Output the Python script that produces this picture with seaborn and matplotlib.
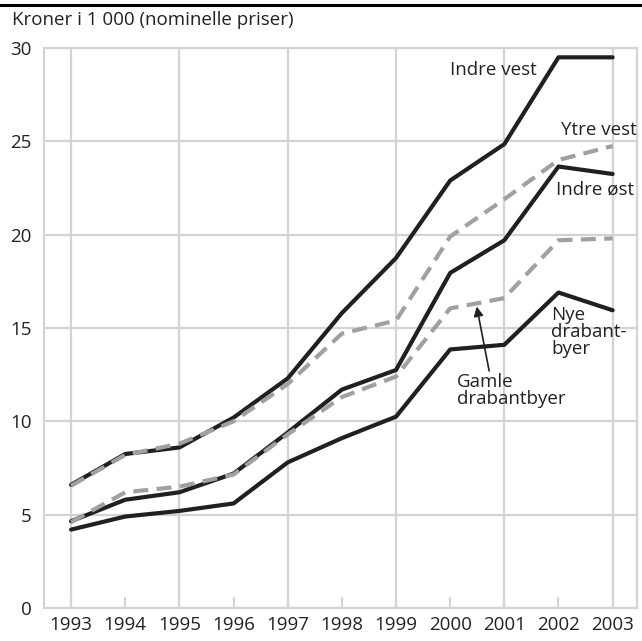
import matplotlib
matplotlib.use("Agg")
import matplotlib.pyplot as plt
from matplotlib.lines import Line2D
import seaborn as sns
import pandas as pd

years = [1993, 1994, 1995, 1996, 1997, 1998, 1999, 2000, 2001, 2002, 2003]
indre_vest = [6.6, 8.25, 8.6, 10.2, 12.3, 15.8, 18.75, 22.9, 24.85, 29.5, 29.5]
indre_ost = [4.65, 5.8, 6.2, 7.2, 9.4, 11.7, 12.75, 17.95, 19.7, 23.65, 23.25]
nye_drabantbyer = [4.2, 4.9, 5.2, 5.6, 7.8, 9.1, 10.25, 13.85, 14.1, 16.9, 15.95]
ytre_vest = [6.55, 8.2, 8.8, 10.0, 12.0, 14.7, 15.4, 19.9, 21.9, 24.0, 24.75]
gamle_drabantbyer = [4.6, 6.2, 6.5, 7.15, 9.3, 11.3, 12.4, 16.05, 16.6, 19.7, 19.8]

series = {
    "Indre vest": indre_vest,
    "Indre øst": indre_ost,
    "Nye drabantbyer": nye_drabantbyer,
    "Ytre vest": ytre_vest,
    "Gamle drabantbyer": gamle_drabantbyer,
}
rows = []
for name, vals in series.items():
    for y, v in zip(years, vals):
        rows.append({"year": y, "value": v, "area": name})
df = pd.DataFrame(rows)

sns.set_style("white")
plt.rcParams["font.family"] = ["Open Sans", "DejaVu Sans"]

fig = plt.figure(figsize=(6.42, 6.41), dpi=100)
ax = fig.add_axes([44/642, 1-608/641, (637-44)/642, (608-48)/641])

black = "#231f20"
gray = "#a0a0a0"
palette = {"Indre vest": black, "Indre øst": black, "Nye drabantbyer": black,
           "Ytre vest": gray, "Gamle drabantbyer": gray}
dashes = {"Indre vest": "", "Indre øst": "", "Nye drabantbyer": "",
          "Ytre vest": (3.6, 2.0), "Gamle drabantbyer": (3.6, 2.0)}
order = list(series.keys())
sns.lineplot(data=df, x="year", y="value", hue="area", style="area",
             hue_order=order, style_order=order, palette=palette, dashes=dashes,
             linewidth=3.0, legend=False, ax=ax, sort=False)

gridc = "#d3d3d3"
ax.set_xlim(1992.5, 2003.45)
ax.set_ylim(0, 30)
ax.set_yticks([0, 5, 10, 15, 20, 25, 30])
ax.xaxis.remove_overlapping_locs = False
ax.set_xticks(years)
ax.set_xticklabels([str(y) for y in years])
ax.set_xticks(years[::2], minor=True)
ax.grid(axis="x", which="major", visible=False)
ax.grid(axis="x", which="minor", color=gridc, linewidth=1.6)
ax.grid(axis="y", which="major", color=gridc, linewidth=1.6)
ax.set_axisbelow(True)
ax.tick_params(axis="x", which="major", bottom=True, direction="in", length=8, width=1.5,
               color=gridc, pad=6, labelsize=13.5, labelcolor="#222222")
ax.tick_params(axis="x", which="minor", length=0)
ax.tick_params(axis="y", length=0, pad=9, labelsize=13.5, labelcolor="#222222")
for s in ax.spines.values():
    s.set_color(gridc)
    s.set_linewidth(1.6)
ax.set_xlabel("")
ax.set_ylabel("")

txt = dict(fontsize=13.5, color="#222222")
ax.text(2001.6, 28.8, "Indre vest", ha="right", va="center", **txt)
ax.text(2003.45, 25.6, "Ytre vest", ha="right", va="center", **txt)
ax.text(2003.4, 22.4, "Indre øst", ha="right", va="center", **txt)
ax.text(2001.86, 16.2, "Nye\ndrabant-\nbyer", ha="left", va="top", linespacing=0.95, **txt)
ax.text(2000.13, 12.6, "Gamle\ndrabantbyer", ha="left", va="top", linespacing=0.95, **txt)
ax.annotate("", xy=(2000.49, 16.15), xytext=(2000.72, 12.7),
            arrowprops=dict(arrowstyle="-|>", color=black, lw=1.2,
                            mutation_scale=14, shrinkA=0, shrinkB=0))

fig.text(12/642, 1-20/641, "Kroner i 1 000 (nominelle priser)", ha="left", va="center", **txt)
fig.add_artist(Line2D([0, 1], [1-5/641, 1-5/641], color="black", linewidth=2.2,
                      transform=fig.transFigure))

fig.savefig("out.png", dpi=100)
